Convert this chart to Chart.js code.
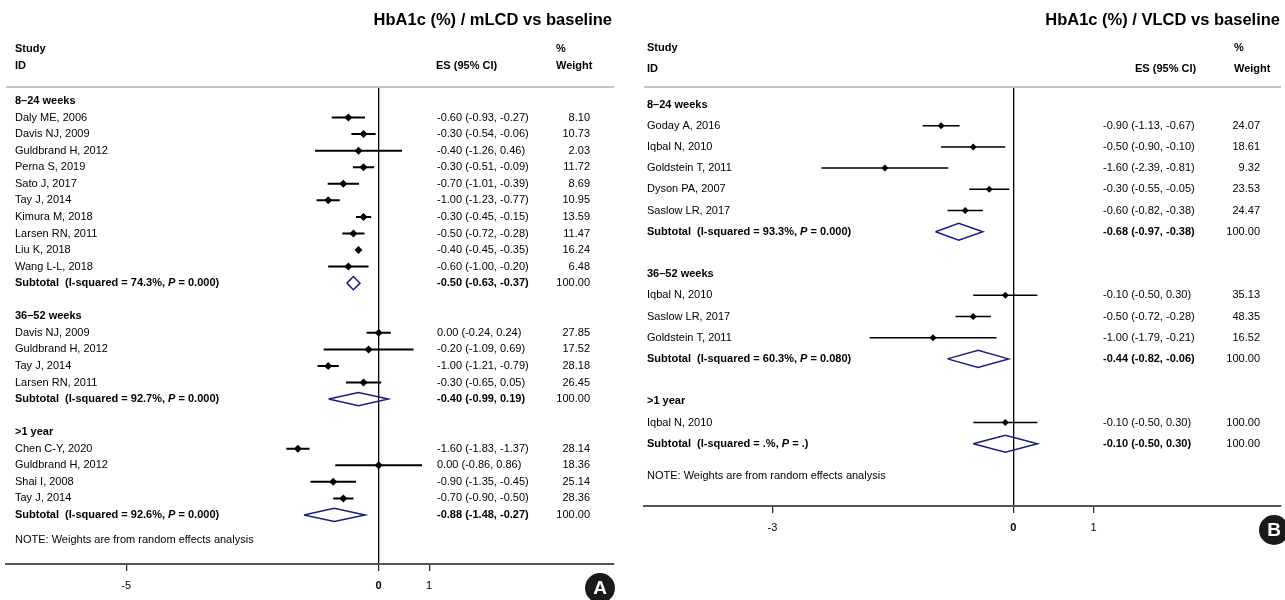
<!DOCTYPE html>
<html>
<head>
<meta charset="utf-8">
<script src="https://cdn.jsdelivr.net/npm/chart.js@4.4.1/dist/chart.umd.min.js"></script>
<style>
  html, body { margin: 0; padding: 0; background: #fff; }
  #wrap { position: relative; width: 1285px; height: 600px; overflow: hidden; background: #fff; }
  #panelA { position: absolute; left: 0; top: 0; }
  #panelB { position: absolute; left: 640px; top: 0; }
</style>
</head>
<body>
<div id="wrap">
  <canvas id="panelA" width="640" height="600"></canvas>
  <canvas id="panelB" width="645" height="600"></canvas>
</div>
<script>
// ---------- Panel A: HbA1c (%), mLCD vs baseline ----------
const mlcdTitle = 'HbA1c (%) / mLCD vs baseline';
const mlcdGroups = ['8–24 weeks', '36–52 weeks', '>1 year'];
const mlcdStudies = [
  ['Daly ME, 2006', 'Davis NJ, 2009', 'Guldbrand H, 2012', 'Perna S, 2019', 'Sato J, 2017',
   'Tay J, 2014', 'Kimura M, 2018', 'Larsen RN, 2011', 'Liu K, 2018', 'Wang L-L, 2018'],
  ['Davis NJ, 2009', 'Guldbrand H, 2012', 'Tay J, 2014', 'Larsen RN, 2011'],
  ['Chen C-Y, 2020', 'Guldbrand H, 2012', 'Shai I, 2008', 'Tay J, 2014']
];
const mlcdES = [
  [-0.60, -0.30, -0.40, -0.30, -0.70, -1.00, -0.30, -0.50, -0.40, -0.60],
  [0.00, -0.20, -1.00, -0.30],
  [-1.60, 0.00, -0.90, -0.70]
];
const mlcdLower = [
  [-0.93, -0.54, -1.26, -0.51, -1.01, -1.23, -0.45, -0.72, -0.45, -1.00],
  [-0.24, -1.09, -1.21, -0.65],
  [-1.83, -0.86, -1.35, -0.90]
];
const mlcdUpper = [
  [-0.27, -0.06, 0.46, -0.09, -0.39, -0.77, -0.15, -0.28, -0.35, -0.20],
  [0.24, 0.69, -0.79, 0.05],
  [-1.37, 0.86, -0.45, -0.50]
];
const mlcdWeight = [
  [8.10, 10.73, 2.03, 11.72, 8.69, 10.95, 13.59, 11.47, 16.24, 6.48],
  [27.85, 17.52, 28.18, 26.45],
  [28.14, 18.36, 25.14, 28.36]
];
const mlcdSubES = [-0.50, -0.40, -0.88];
const mlcdSubLower = [-0.63, -0.99, -1.48];
const mlcdSubUpper = [-0.37, 0.19, -0.27];
const mlcdISq = ['74.3%', '92.7%', '92.6%'];
const mlcdP = ['0.000', '0.000', '0.000'];
const mlcdTicks = [-5, 0, 1];
const mlcdTickLabels = ['-5', '0', '1'];

// ---------- Panel B: HbA1c (%), VLCD vs baseline ----------
const vlcdTitle = 'HbA1c (%) / VLCD vs baseline';
const vlcdGroups = ['8–24 weeks', '36–52 weeks', '>1 year'];
const vlcdStudies = [
  ['Goday A, 2016', 'Iqbal N, 2010', 'Goldstein T, 2011', 'Dyson PA, 2007', 'Saslow LR, 2017'],
  ['Iqbal N, 2010', 'Saslow LR, 2017', 'Goldstein T, 2011'],
  ['Iqbal N, 2010']
];
const vlcdES = [
  [-0.90, -0.50, -1.60, -0.30, -0.60],
  [-0.10, -0.50, -1.00],
  [-0.10]
];
const vlcdLower = [
  [-1.13, -0.90, -2.39, -0.55, -0.82],
  [-0.50, -0.72, -1.79],
  [-0.50]
];
const vlcdUpper = [
  [-0.67, -0.10, -0.81, -0.05, -0.38],
  [0.30, -0.28, -0.21],
  [0.30]
];
const vlcdWeight = [
  [24.07, 18.61, 9.32, 23.53, 24.47],
  [35.13, 48.35, 16.52],
  [100.00]
];
const vlcdSubES = [-0.68, -0.44, -0.10];
const vlcdSubLower = [-0.97, -0.82, -0.50];
const vlcdSubUpper = [-0.38, -0.06, 0.30];
const vlcdISq = ['93.3%', '60.3%', '.%'];
const vlcdP = ['0.000', '0.080', '.'];
const vlcdTicks = [-3, 0, 1];
const vlcdTickLabels = ['-3', '0', '1'];

const noteText = 'NOTE: Weights are from random effects analysis';

// ---------- drawing ----------
const FONT = "'Liberation Sans', Arial, Helvetica, sans-serif";
const f = (size, style) => (style ? style + ' ' : '') + size + 'px ' + FONT;

function buildRows(d) {
  const rows = [];
  d.groups.forEach((g, gi) => {
    if (gi > 0) rows.push({ type: 'blank' });
    rows.push({ type: 'head', text: g });
    d.studies[gi].forEach((s, si) => {
      rows.push({ type: 'study', text: s, es: d.es[gi][si], lo: d.lower[gi][si], hi: d.upper[gi][si], w: d.weight[gi][si] });
    });
    rows.push({ type: 'sub', es: d.subES[gi], lo: d.subLower[gi], hi: d.subUpper[gi], isq: d.isq[gi], p: d.p[gi], w: 100 });
  });
  return rows;
}

const esText = r => r.es.toFixed(2) + ' (' + r.lo.toFixed(2) + ', ' + r.hi.toFixed(2) + ')';

function drawRich(ctx, x, y, parts) {
  let cx = x;
  parts.forEach(p => {
    ctx.font = p.font;
    ctx.fillText(p.text, cx, y);
    cx += ctx.measureText(p.text).width;
  });
}

function makePanel(canvasId, d, L) {
  const rows = buildRows(d);
  const ci = [], est = [], dia = [];
  rows.forEach((r, i) => {
    if (r.type === 'study') {
      ci.push({ x: r.lo, y: i }, { x: r.hi, y: i }, { x: null, y: null });
      est.push({ x: r.es, y: i });
    } else if (r.type === 'sub') {
      const h = L.diamondHalf;
      dia.push({ x: r.lo, y: i }, { x: r.es, y: i - h }, { x: r.hi, y: i },
               { x: r.es, y: i + h }, { x: r.lo, y: i }, { x: null, y: null });
    }
  });
  const noteRow = rows.length + 0.5;

  const textPlugin = {
    id: 'forestText',
    beforeDatasetsDraw(chart) {
      const ctx = chart.ctx, a = chart.chartArea;
      ctx.save();
      ctx.strokeStyle = '#c4c4c4';
      ctx.lineWidth = 2;
      ctx.beginPath();
      ctx.moveTo(a.left, a.top);
      ctx.lineTo(a.right, a.top);
      ctx.stroke();
      ctx.restore();
    },
    afterDraw(chart) {
      const ctx = chart.ctx, ys = chart.scales.y;
      ctx.save();
      ctx.fillStyle = '#000';
      ctx.textBaseline = 'middle';
      // title
      ctx.font = f(L.titleSize, 'bold');
      ctx.textAlign = 'right';
      ctx.fillText(d.title, L.titleRight, L.titleY);
      // column headers
      ctx.font = f(11, 'bold');
      ctx.textAlign = 'left';
      ctx.fillText('Study', L.studyX, L.head1Y);
      ctx.fillText('ID', L.studyX, L.head2Y);
      ctx.fillText('ES (95% CI)', L.esHeadX, L.head2Y);
      ctx.fillText('%', L.pctX, L.head1Y);
      ctx.fillText('Weight', L.pctX, L.head2Y);
      // rows
      rows.forEach((r, i) => {
        const y = ys.getPixelForValue(i);
        ctx.textAlign = 'left';
        if (r.type === 'head') {
          ctx.font = f(11, 'bold');
          ctx.fillText(r.text, L.studyX, y);
        } else if (r.type === 'study') {
          ctx.font = f(11);
          ctx.fillText(r.text, L.studyX, y);
          ctx.fillText(esText(r), L.esX, y);
          ctx.textAlign = 'right';
          ctx.fillText(r.w.toFixed(2), L.wtRight, y);
        } else if (r.type === 'sub') {
          drawRich(ctx, L.studyX, y, [
            { text: 'Subtotal  (I-squared = ' + r.isq + ', ', font: f(11, 'bold') },
            { text: 'P', font: f(11, 'italic bold') },
            { text: ' = ' + r.p + ')', font: f(11, 'bold') }
          ]);
          ctx.font = f(11, 'bold');
          ctx.fillText(esText(r), L.esX, y);
          ctx.font = f(11);
          ctx.textAlign = 'right';
          ctx.fillText(r.w.toFixed(2), L.wtRight, y);
        }
      });
      ctx.textAlign = 'left';
      ctx.font = f(11);
      ctx.fillText(noteText, L.studyX, ys.getPixelForValue(noteRow));
      // panel badge
      ctx.beginPath();
      ctx.arc(L.badgeX, L.badgeY, 15, 0, Math.PI * 2);
      ctx.fillStyle = '#1a1a1a';
      ctx.fill();
      ctx.fillStyle = '#fff';
      ctx.font = f(19, 'bold');
      ctx.textAlign = 'center';
      ctx.fillText(L.badge, L.badgeX, L.badgeY + 1);
      ctx.restore();
    }
  };

  return new Chart(document.getElementById(canvasId), {
    type: 'line',
    data: {
      datasets: [
        { type: 'line', data: ci, borderColor: '#000', borderWidth: L.ciWidth, pointRadius: 0, spanGaps: false, tension: 0, order: 2 },
        { type: 'line', data: dia, borderColor: '#1c1c80', borderWidth: 1.5, pointRadius: 0, spanGaps: false, tension: 0, borderJoinStyle: 'miter', order: 3 },
        { type: 'scatter', data: est, pointStyle: 'rectRot', pointRadius: L.markRadius, backgroundColor: '#000', borderColor: '#000', borderWidth: 0, order: 1 }
      ]
    },
    options: {
      responsive: false,
      animation: false,
      devicePixelRatio: 1,
      events: [],
      layout: { padding: { left: L.padL, right: L.padR, top: L.padT, bottom: L.padB } },
      plugins: { legend: { display: false }, tooltip: { enabled: false } },
      scales: {
        x: {
          type: 'linear',
          min: L.xMin,
          max: L.xMax,
          afterBuildTicks: s => { s.ticks = d.ticks.map(v => ({ value: v })); },
          afterFit: s => { s.height = 36; },
          border: { display: true, color: '#555', width: 2 },
          grid: {
            drawOnChartArea: true,
            color: c => (c.tick && c.tick.value === 0) ? '#000' : 'rgba(0,0,0,0)',
            lineWidth: 1.3,
            tickLength: 7,
            tickColor: '#222',
            tickWidth: 1.2
          },
          ticks: {
            autoSkip: false,
            maxRotation: 0,
            padding: 8,
            color: '#000',
            font: c => ({ family: FONT, size: 11, weight: (c.tick && c.tick.value === 0) ? 'bold' : 'normal' }),
            callback: v => d.tickLabels[d.ticks.indexOf(v)]
          }
        },
        y: { type: 'linear', display: false, reverse: true, min: L.yMin, max: L.yMax }
      }
    },
    plugins: [textPlugin]
  });
}

makePanel('panelA', {
  title: mlcdTitle, groups: mlcdGroups, studies: mlcdStudies, es: mlcdES, lower: mlcdLower, upper: mlcdUpper,
  weight: mlcdWeight, subES: mlcdSubES, subLower: mlcdSubLower, subUpper: mlcdSubUpper,
  isq: mlcdISq, p: mlcdP, ticks: mlcdTicks, tickLabels: mlcdTickLabels
}, {
  padL: 6, padR: 26, padT: 87, padB: 0,
  xMin: -7.380, xMax: 4.660, yMin: -0.845, yMax: 27.96,
  diamondHalf: 0.4, ciWidth: 2, markRadius: 4,
  titleSize: 16.5, titleRight: 612, titleY: 20,
  studyX: 15, head1Y: 49, head2Y: 66, esHeadX: 436, esX: 437, pctX: 556, wtRight: 590,
  badge: 'A', badgeX: 600, badgeY: 588
});

makePanel('panelB', {
  title: vlcdTitle, groups: vlcdGroups, studies: vlcdStudies, es: vlcdES, lower: vlcdLower, upper: vlcdUpper,
  weight: vlcdWeight, subES: vlcdSubES, subLower: vlcdSubLower, subUpper: vlcdSubUpper,
  isq: vlcdISq, p: vlcdP, ticks: vlcdTicks, tickLabels: vlcdTickLabels
}, {
  padL: 0, padR: 0, padT: 87, padB: 58,
  xMin: -4.600, xMax: 3.333, yMin: -0.825, yMax: 18.94,
  diamondHalf: 0.4, ciWidth: 1.5, markRadius: 3.5,
  titleSize: 16.5, titleRight: 640, titleY: 20,
  studyX: 7, head1Y: 48, head2Y: 69, esHeadX: 495, esX: 463, pctX: 594, wtRight: 620,
  badge: 'B', badgeX: 634, badgeY: 530
});
</script>
</body>
</html>
